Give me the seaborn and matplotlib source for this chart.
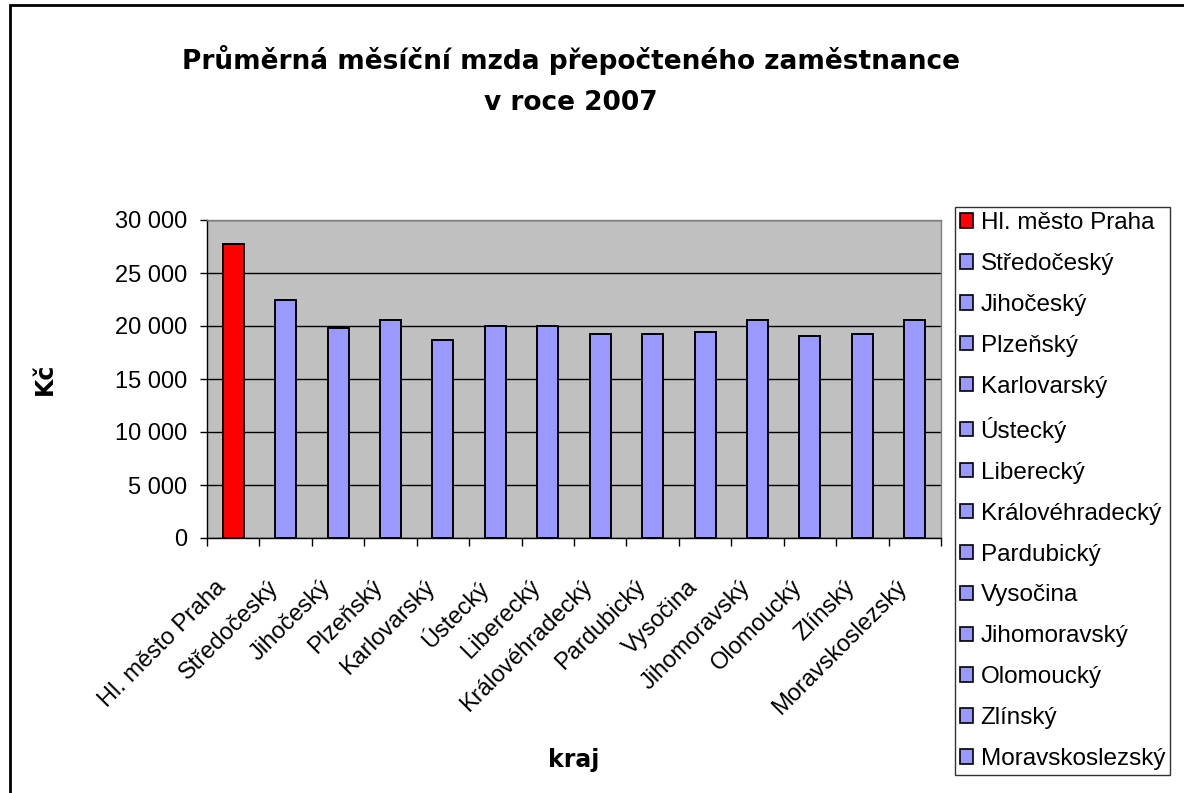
import matplotlib
matplotlib.use("Agg")
import matplotlib.pyplot as plt
import matplotlib.ticker as mticker
import matplotlib.transforms as mtransforms
from matplotlib.patches import Rectangle
import seaborn as sns
import pandas as pd

kraje = ["Hl. město Praha", "Středočeský", "Jihočeský", "Plzeňský", "Karlovarský",
         "Ústecký", "Liberecký", "Královéhradecký", "Pardubický", "Vysočina",
         "Jihomoravský", "Olomoucký", "Zlínský", "Moravskoslezský"]
mzda = [27750, 22430, 19770, 20530, 18690, 20020, 20020, 19260, 19260, 19420,
        20530, 19070, 19260, 20530]
barvy = ["#FF0000"] + ["#9999FF"] * 13

df = pd.DataFrame({"kraj": kraje, "mzda": mzda})

sns.set_theme(style="white")
plt.rcParams["font.family"] = ["Liberation Sans", "DejaVu Sans"]
for k in ["text.color", "axes.labelcolor", "xtick.color", "ytick.color"]:
    plt.rcParams[k] = "black"

fig = plt.figure(figsize=(11.84, 7.93), dpi=100)
W, H = 1184, 793
ax = fig.add_axes([207 / W, 1 - 538 / H, (941 - 207) / W, (538 - 220) / H])

sns.barplot(data=df, x="kraj", y="mzda", hue="kraj", palette=barvy, dodge=False,
            saturation=1, width=0.4, edgecolor="black", linewidth=1.4, legend=True,
            ax=ax, zorder=3)

ax.set_facecolor("#C0C0C0")
ax.set_ylim(0, 30000)
ax.set_xlim(-0.5, len(kraje) - 0.5)
ax.yaxis.set_major_locator(mticker.MultipleLocator(5000))
ax.yaxis.set_major_formatter(mticker.FuncFormatter(lambda v, p: f"{int(v):,}".replace(",", " ")))
ax.grid(axis="y", color="black", linewidth=1, zorder=1)
ax.set_axisbelow(True)
for s in ["top", "right"]:
    ax.spines[s].set_color("#808080")
    ax.spines[s].set_linewidth(1)
for s in ["left", "bottom"]:
    ax.spines[s].set_color("black")
    ax.spines[s].set_linewidth(1)

fs = 17
# category ticks at boundaries
ax.set_xticks([i - 0.5 for i in range(len(kraje) + 1)], minor=False)
ax.set_xticklabels([])
ax.set_xticks(range(len(kraje)), minor=True)
ax.set_xticklabels(kraje, minor=True, rotation=45, ha="right", va="center",
                   rotation_mode="anchor", fontsize=fs)
ax.tick_params(axis="x", which="major", direction="out", length=5.5, width=1, color="black", bottom=True)
ax.tick_params(axis="x", which="minor", length=0, pad=33)
offset = mtransforms.ScaledTranslation(-11 / 100, 0, fig.dpi_scale_trans)
for lab in ax.get_xticklabels(minor=True):
    lab.set_transform(lab.get_transform() + offset)
ax.tick_params(axis="y", direction="out", length=5, width=1, color="black", left=True,
               labelsize=fs, pad=9)

ax.set_xlabel("kraj", fontsize=17, fontweight="bold", family="DejaVu Sans")
ax.set_ylabel("Kč", fontsize=17, fontweight="bold", family="DejaVu Sans")
ax.xaxis.set_label_coords(0.5, -(760 - 538) / (538 - 220))
ax.yaxis.set_label_coords((45 - 207) / (941 - 207), 0.5)
ax.xaxis.label.set_va("center")
ax.yaxis.label.set_va("center")

fig.text(571 / W, 1 - 60 / H, "Průměrná měsíční mzda přepočteného zaměstnance",
         ha="center", va="center", fontsize=19, fontweight="bold", family="DejaVu Sans")
fig.text(571 / W, 1 - 103 / H, "v roce 2007", ha="center", va="center",
         fontsize=19, fontweight="bold", family="DejaVu Sans")

leg = ax.legend(loc="upper left", bbox_to_anchor=(955 / W, 1 - 207 / H),
                bbox_transform=fig.transFigure, fontsize=17.5, frameon=True,
                fancybox=False, edgecolor="black", handlelength=0.55, handleheight=0.55,
                handletextpad=0.3, labelspacing=0.78, borderpad=0.2, borderaxespad=0)
leg.get_frame().set_linewidth(1)
leg.get_frame().set_facecolor("white")
for h in leg.legend_handles:
    h.set_edgecolor("black")
    h.set_linewidth(1.2)

fig.add_artist(Rectangle((10 / W, -0.01), 1.0, 1 - 5 / H + 0.01, transform=fig.transFigure,
                         fill=False, edgecolor="black", linewidth=2))

fig.savefig("out.png", dpi=100, facecolor="white")
